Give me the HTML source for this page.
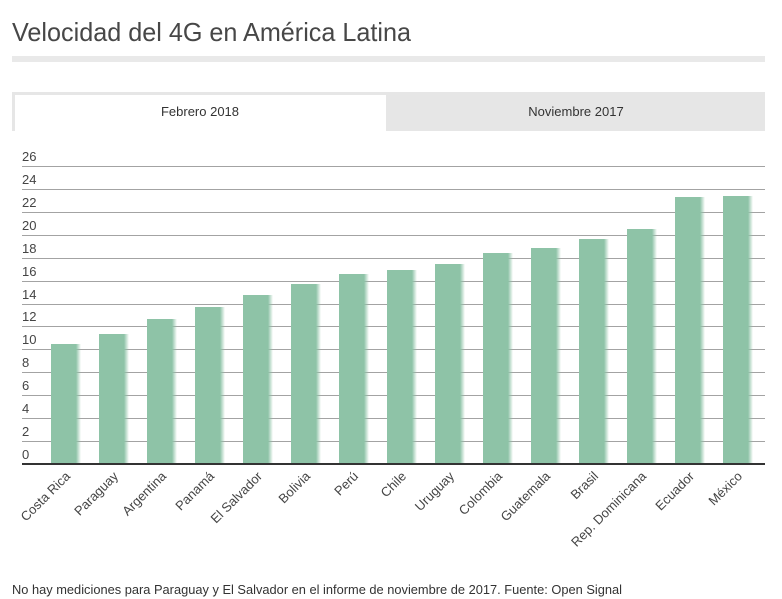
<!DOCTYPE html>
<html><head><meta charset="utf-8"><style>
html,body{margin:0;padding:0;background:#fff;}
svg{display:block;font-family:"Liberation Sans",Arial,sans-serif;}
</style></head><body>
<svg width="782" height="599" viewBox="0 0 782 599" xmlns="http://www.w3.org/2000/svg">
<defs>
<linearGradient id="fade" x1="0" x2="1" y1="0" y2="0">
<stop offset="0" stop-color="#8ec3a7"/><stop offset="1" stop-color="#8ec3a7" stop-opacity="0"/>
</linearGradient>
</defs>
<rect width="782" height="599" fill="#fff"/>
<text x="12" y="41" font-size="26" fill="#474747" textLength="399" lengthAdjust="spacingAndGlyphs">Velocidad del 4G en América Latina</text>
<rect x="12" y="56" width="753" height="6" fill="#e9e9e9"/>
<rect x="12" y="92" width="753" height="39" fill="#e6e6e6"/>
<rect x="15" y="95" width="371" height="36" fill="#fff"/>
<text x="200" y="116" font-size="13" fill="#333" text-anchor="middle">Febrero 2018</text>
<text x="576" y="116" font-size="13" fill="#333" text-anchor="middle">Noviembre 2017</text>
<g stroke="#a3a3a3" stroke-width="1">
<line x1="22" x2="765" y1="166.5" y2="166.5"/>
<line x1="22" x2="765" y1="189.5" y2="189.5"/>
<line x1="22" x2="765" y1="212.5" y2="212.5"/>
<line x1="22" x2="765" y1="235.5" y2="235.5"/>
<line x1="22" x2="765" y1="258.5" y2="258.5"/>
<line x1="22" x2="765" y1="281.5" y2="281.5"/>
<line x1="22" x2="765" y1="304.5" y2="304.5"/>
<line x1="22" x2="765" y1="326.5" y2="326.5"/>
<line x1="22" x2="765" y1="349.5" y2="349.5"/>
<line x1="22" x2="765" y1="372.5" y2="372.5"/>
<line x1="22" x2="765" y1="395.5" y2="395.5"/>
<line x1="22" x2="765" y1="418.5" y2="418.5"/>
<line x1="22" x2="765" y1="441.5" y2="441.5"/>
</g>
<g font-size="13" fill="#444">
<text x="22" y="161">26</text>
<text x="22" y="184">24</text>
<text x="22" y="207">22</text>
<text x="22" y="230">20</text>
<text x="22" y="253">18</text>
<text x="22" y="276">16</text>
<text x="22" y="299">14</text>
<text x="22" y="321">12</text>
<text x="22" y="344">10</text>
<text x="22" y="367">8</text>
<text x="22" y="390">6</text>
<text x="22" y="413">4</text>
<text x="22" y="436">2</text>
<text x="22" y="459">0</text>
</g>
<g>
<rect x="51" y="344" width="25" height="120" fill="#8ec3a7"/><rect x="76" y="344" width="5" height="120" fill="url(#fade)"/>
<rect x="99" y="334" width="25" height="130" fill="#8ec3a7"/><rect x="124" y="334" width="5" height="130" fill="url(#fade)"/>
<rect x="147" y="319" width="25" height="145" fill="#8ec3a7"/><rect x="172" y="319" width="5" height="145" fill="url(#fade)"/>
<rect x="195" y="307" width="25" height="157" fill="#8ec3a7"/><rect x="220" y="307" width="5" height="157" fill="url(#fade)"/>
<rect x="243" y="295" width="25" height="169" fill="#8ec3a7"/><rect x="268" y="295" width="5" height="169" fill="url(#fade)"/>
<rect x="291" y="284" width="25" height="180" fill="#8ec3a7"/><rect x="316" y="284" width="5" height="180" fill="url(#fade)"/>
<rect x="339" y="274" width="25" height="190" fill="#8ec3a7"/><rect x="364" y="274" width="5" height="190" fill="url(#fade)"/>
<rect x="387" y="270" width="25" height="194" fill="#8ec3a7"/><rect x="412" y="270" width="5" height="194" fill="url(#fade)"/>
<rect x="435" y="264" width="25" height="200" fill="#8ec3a7"/><rect x="460" y="264" width="5" height="200" fill="url(#fade)"/>
<rect x="483" y="253" width="25" height="211" fill="#8ec3a7"/><rect x="508" y="253" width="5" height="211" fill="url(#fade)"/>
<rect x="531" y="248" width="25" height="216" fill="#8ec3a7"/><rect x="556" y="248" width="5" height="216" fill="url(#fade)"/>
<rect x="579" y="239" width="25" height="225" fill="#8ec3a7"/><rect x="604" y="239" width="5" height="225" fill="url(#fade)"/>
<rect x="627" y="229" width="25" height="235" fill="#8ec3a7"/><rect x="652" y="229" width="5" height="235" fill="url(#fade)"/>
<rect x="675" y="197" width="25" height="267" fill="#8ec3a7"/><rect x="700" y="197" width="5" height="267" fill="url(#fade)"/>
<rect x="723" y="196" width="25" height="268" fill="#8ec3a7"/><rect x="748" y="196" width="5" height="268" fill="url(#fade)"/>
</g>
<rect x="22" y="463" width="743" height="2" fill="#333"/>
<g font-size="13" fill="#444" text-anchor="end">
<text transform="translate(71,477) rotate(-45)">Costa Rica</text>
<text transform="translate(119,477) rotate(-45)">Paraguay</text>
<text transform="translate(167,477) rotate(-45)">Argentina</text>
<text transform="translate(215,477) rotate(-45)">Panamá</text>
<text transform="translate(263,477) rotate(-45)">El Salvador</text>
<text transform="translate(311,477) rotate(-45)">Bolivia</text>
<text transform="translate(359,477) rotate(-45)">Perú</text>
<text transform="translate(407,477) rotate(-45)">Chile</text>
<text transform="translate(455,477) rotate(-45)">Uruguay</text>
<text transform="translate(503,477) rotate(-45)">Colombia</text>
<text transform="translate(551,477) rotate(-45)">Guatemala</text>
<text transform="translate(599,477) rotate(-45)">Brasil</text>
<text transform="translate(647,477) rotate(-45)">Rep. Dominicana</text>
<text transform="translate(695,477) rotate(-45)">Ecuador</text>
<text transform="translate(743,477) rotate(-45)">México</text>
</g>
<text x="12" y="594" font-size="13" fill="#333" textLength="610" lengthAdjust="spacingAndGlyphs">No hay mediciones para Paraguay y El Salvador en el informe de noviembre de 2017. Fuente: Open Signal</text>
</svg>
</body></html>
